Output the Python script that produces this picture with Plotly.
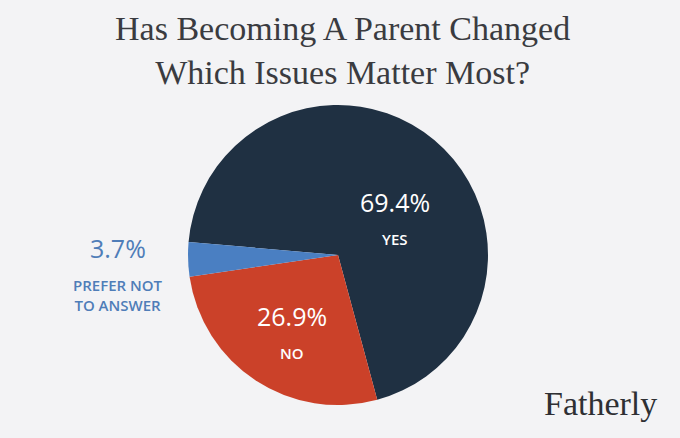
import plotly.graph_objects as go

labels = ["Yes", "No", "Prefer not to answer"]
values = [69.4, 26.9, 3.7]
label_text = ["YES", "NO", "PREFER NOT<br>TO ANSWER"]
colors = ["#1f3042", "#cb4129", "#4a7fc2"]

title_text = "Has Becoming A Parent Changed<br>Which Issues Matter Most?"

W, H = 680, 438
pa_l, pa_r, pa_t, pa_b = 0, 4, 105, 33
pw, ph = W - pa_l - pa_r, H - pa_t - pa_b


def px_to_paper(x, y):
    return (x - pa_l) / pw, 1 - (y - pa_t) / ph


fig = go.Figure()
fig.add_trace(go.Pie(
    labels=labels, values=values, sort=False, direction="clockwise",
    rotation=275, marker=dict(colors=colors, line=dict(width=0)),
    textinfo="none", hoverinfo="label+percent", showlegend=False,
    domain=dict(x=[0, 1], y=[0, 1]),
))

bg = "#f3f3f5"
sans = "Open Sans, Lato, sans-serif"
pos = [(395, 222, "white"), (292, 336, "white"), (118, 268, "#4f7db8")]
anns = []
for (x, y, c), v, t in zip(pos, values, label_text):
    ax, ay = px_to_paper(x, y - 1)
    anns.append(dict(x=ax, y=ay, xref="paper", yref="paper", text=f"{v}%",
                     showarrow=False, xanchor="center", yanchor="bottom",
                     font=dict(family=sans, size=25, color=c)))
    bx, by = px_to_paper(x, y + 5)
    anns.append(dict(x=bx, y=by, xref="paper", yref="paper", text=t,
                     showarrow=False, xanchor="center", yanchor="top",
                     font=dict(family=sans, size=15, color=c, weight=600)))

tx, ty = px_to_paper(342, 8)
anns.append(dict(x=tx, y=ty, xref="paper", yref="paper",
                 text=title_text, showarrow=False, xanchor="center", yanchor="top",
                 font=dict(family="Liberation Serif, serif", size=34, color="#3a3b40")))
fx, fy = px_to_paper(659, 424)
anns.append(dict(x=fx, y=fy, xref="paper", yref="paper",
                 text="Fatherly", showarrow=False, xanchor="right", yanchor="bottom",
                 font=dict(family="Liberation Serif, serif", size=34, color="#2e2f33")))

fig.update_layout(
    width=W, height=H,
    margin=dict(l=pa_l, r=pa_r, t=pa_t, b=pa_b),
    paper_bgcolor=bg, plot_bgcolor=bg,
    annotations=anns,
)

fig.write_html("out.html", config={"displayModeBar": False},
               post_script="document.body.style.margin='0';")
